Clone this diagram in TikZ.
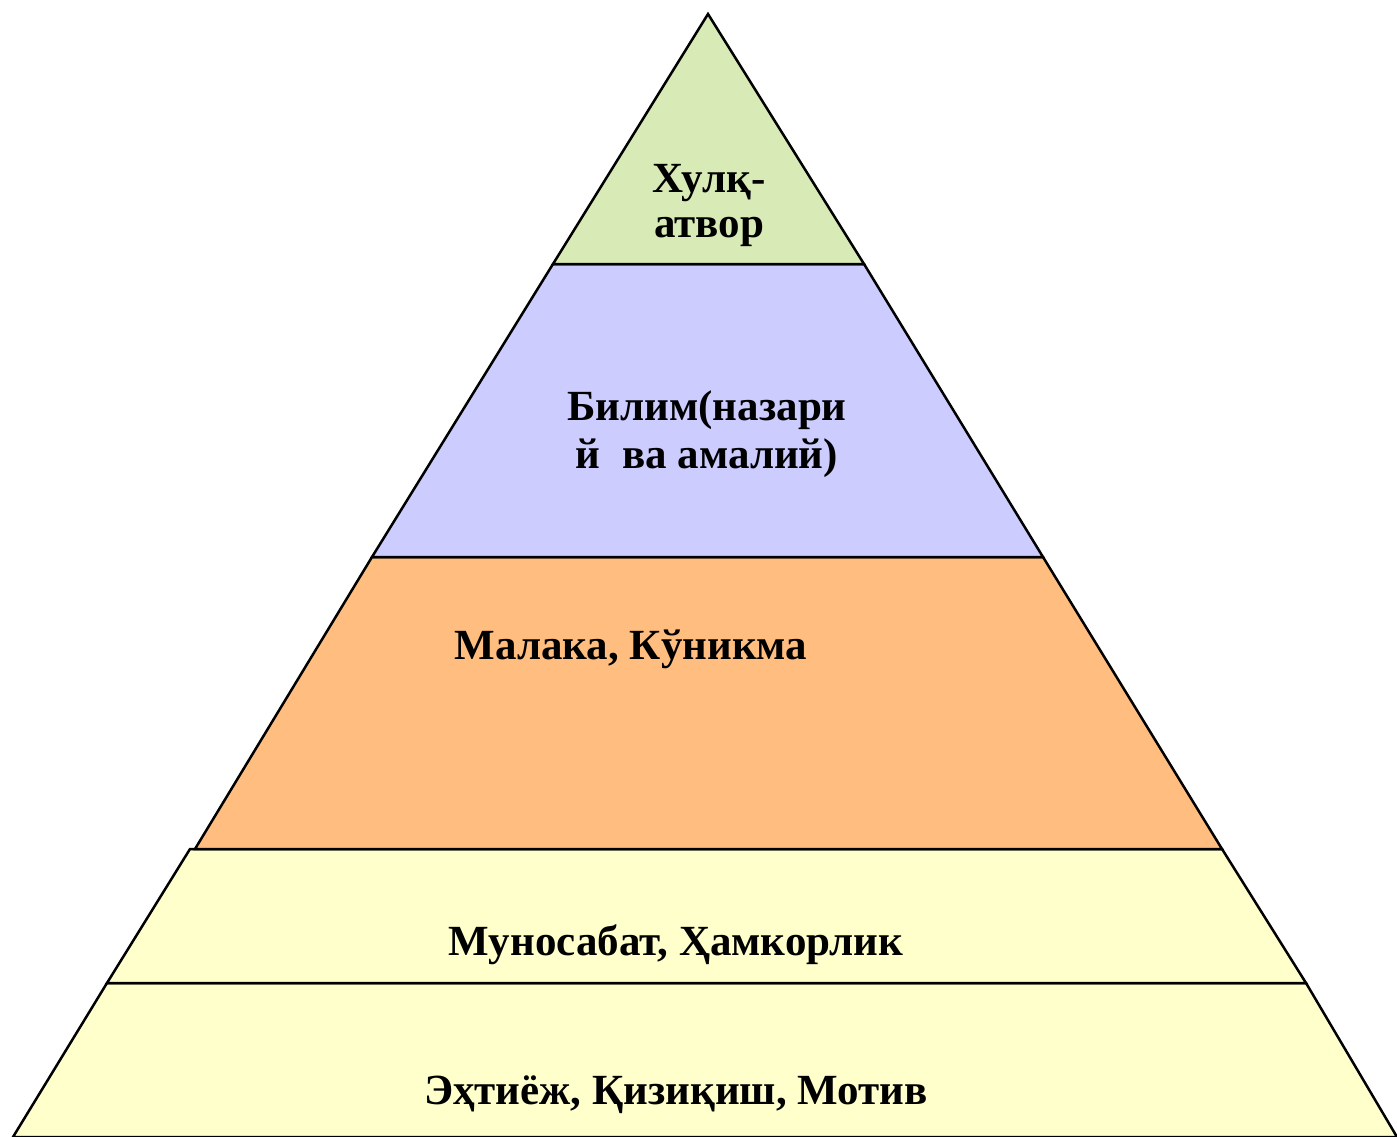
\documentclass[tikz,border=0pt]{standalone}
\usepackage{fontspec}
\setmainfont{Liberation Serif}
\definecolor{cgreen}{RGB}{216,234,181}
\definecolor{cblue}{RGB}{204,204,255}
\definecolor{corange}{RGB}{255,190,128}
\definecolor{cyellow}{RGB}{255,255,204}
\tikzset{
  layer/.style={draw=black, line width=2.5pt, line join=miter},
  lbl/.style={font=\fontsize{43}{49}\selectfont\bfseries, inner sep=0pt, anchor=base, align=center},
}
\begin{document}
\begin{tikzpicture}[x=1pt,y=-1pt]
\useasboundingbox (0,0) rectangle (1397,1137);
% layers
\path[layer, fill=cyellow] (107,983) -- (1306,983) -- (1397,1137) -- (13,1137) -- cycle;
\path[layer, fill=cyellow] (190,849) -- (1222,849) -- (1306,983) -- (107,983) -- cycle;
\path[layer, fill=corange] (372,557) -- (1043,557) -- (1222,849) -- (195,849) -- cycle;
\path[layer, fill=cblue] (553,264) -- (864,264) -- (1043,557) -- (372,557) -- cycle;
\path[layer, fill=cgreen] (708,14) -- (864,264) -- (553,264) -- cycle;
% labels
\node[lbl] (l1a) at (709,192) {Хулқ-};
\node[lbl] (l1b) at (709,237) {атвор};
\node[lbl] (l2a) at (707,420) {Билим(назари};
\node[lbl] (l2b) at (707,468) {й\ \ ва амалий)};
\node[lbl] (l3) at (631,659) {Малака, Кўникма};
\node[lbl] (l4) at (676,955) {Муносабат, Ҳамкорлик};
\node[lbl] (l5) at (676,1104) {Эҳтиёж, Қизиқиш, Мотив};
\end{tikzpicture}
\end{document}
